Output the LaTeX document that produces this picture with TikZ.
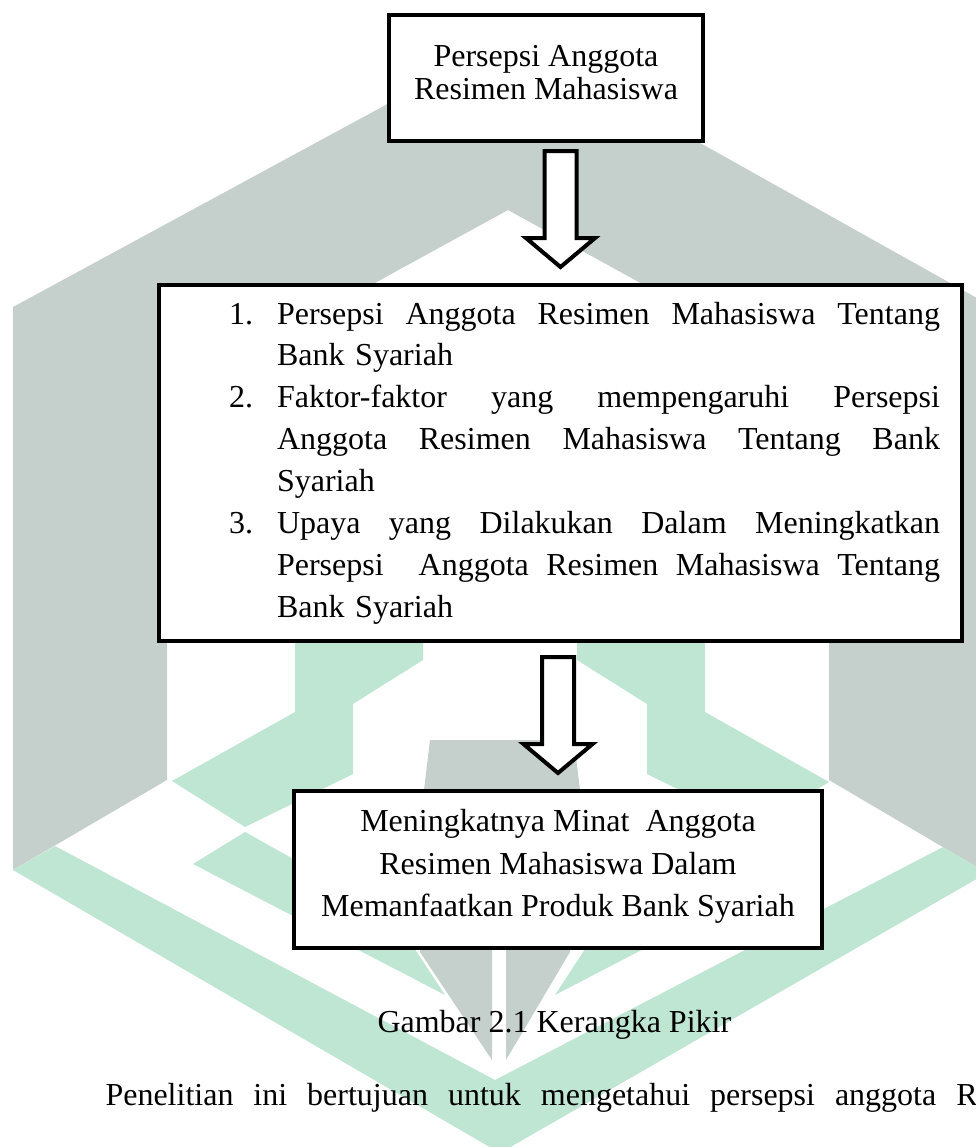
\documentclass[tikz,border=0pt]{standalone}
\usepackage{fontspec}
\setmainfont{Liberation Serif}
\usetikzlibrary{shapes,arrows,calc}
\definecolor{abu}{rgb}{0.773,0.816,0.800}
\definecolor{hijau}{rgb}{0.749,0.898,0.827}
\tikzstyle{kotak} = [rectangle, draw, fill=white, line width=1.6pt,
    inner sep=0pt, outer sep=0pt]
\tikzstyle{panah} = [single arrow, draw, fill=white, line width=1.5pt, rotate=-90,
    inner xsep=0pt, inner ysep=5.25pt, outer sep=0pt, minimum height=43.5pt,
    single arrow head extend=6.95pt, single arrow tip angle=100,
    single arrow head indent=0pt, anchor=tail]
\tikzstyle{teks} = [inner sep=0pt, font=\fontsize{12}{14}\selectfont]
\tikzstyle{logoabu} = [fill=abu, draw=none]
\tikzstyle{logohijau} = [fill=hijau, draw=none]
\newcommand{\rata}[1]{\makebox[248.6pt][s]{\spaceskip=0pt\xspaceskip=0pt\relax #1}}
\newcommand{\nomor}[2]{\hspace*{18pt}\makebox[18pt][l]{#1}\rata{#2}}
\newcommand{\sambung}[1]{\hspace*{36pt}\rata{#1}}
\newcommand{\akhir}[1]{\hspace*{36pt}#1}
\begin{document}
\begin{tikzpicture}[x=0.375pt, y=-0.375pt]
    \useasboundingbox (0,0) rectangle (976,1147);
    % Watermark
    \path [logoabu] (13,870) -- (13,307) -- (511,37) -- (1009,316) -- (1009,886)
        -- (829,780) -- (829,387) -- (508,210) -- (167,397) -- (167,780) -- cycle;
    \path [logoabu] (430,740) -- (574,740) -- (580,790) -- (570,952) -- (506,1060)
        -- (506,900) -- (492,900) -- (492,1060) -- (420,952) -- (424,790) -- cycle;
    \path [logohijau] (13,870) -- (55,846) -- (495,1080) -- (943,847) -- (987,873)
        -- (500,1153) -- cycle;
    \path [logohijau] (295,641) -- (295,712) -- (172,781) -- (245,827) -- (353,774)
        -- (353,704) -- (423,660) -- (423,641) -- cycle;
    \path [logohijau] (705,641) -- (705,712) -- (829,782) -- (755,827) -- (647,774)
        -- (647,704) -- (577,660) -- (577,641) -- cycle;
    \path [logohijau] (193,864) -- (245,832) -- (392,914) -- (445,995) -- cycle;
    \path [logohijau] (807,864) -- (755,832) -- (608,914) -- (555,995) -- cycle;
    % Place nodes
    \node [kotak, minimum width=117.75pt, minimum height=47.25pt, align=center,
        font=\fontsize{12}{12.4}\selectfont] (persepsi) at (546,78)
        {Persepsi Anggota\\Resimen Mahasiswa\\[-8pt]\mbox{}};
    \node [kotak, minimum width=301.1pt, minimum height=133.5pt, text width=284.6pt,
        align=left, font=\fontsize{12}{15.7}\selectfont] (faktor) at (560.5,463)
        {\nomor{1.}{Persepsi Anggota Resimen Mahasiswa Tentang}\\
         \akhir{Bank Syariah}\\
         \nomor{2.}{Faktor-faktor yang mempengaruhi Persepsi}\\
         \sambung{Anggota Resimen Mahasiswa Tentang Bank}\\
         \akhir{Syariah}\\
         \nomor{3.}{Upaya yang Dilakukan Dalam Meningkatkan}\\
         \sambung{Persepsi\ \ Anggota Resimen Mahasiswa Tentang}\\
         \akhir{Bank Syariah}};
    \node [kotak, minimum width=198pt, minimum height=58.9pt, align=center,
        font=\fontsize{12}{15.9}\selectfont] (meningkat) at (558,869.5)
        {Meningkatnya Minat\ \ Anggota\\Resimen Mahasiswa Dalam\\Memanfaatkan Produk Bank Syariah\\[-11pt]\mbox{}};
    \node [teks, anchor=base west] (judul) at (377,1032) {Gambar 2.1 Kerangka Pikir};
    \node [teks, anchor=base west] (paragraf) at (105,1105)
        {\makebox[327pt][s]{Penelitian ini bertujuan untuk mengetahui persepsi anggota R}};
    % Draw edges
    \node [panah] (panah1) at ($(persepsi.south -| faktor.center)+(0,10)$) {};
    \node [panah] (panah2) at ($(faktor.south -| meningkat.center)+(0,16)$) {};
\end{tikzpicture}
\end{document}
